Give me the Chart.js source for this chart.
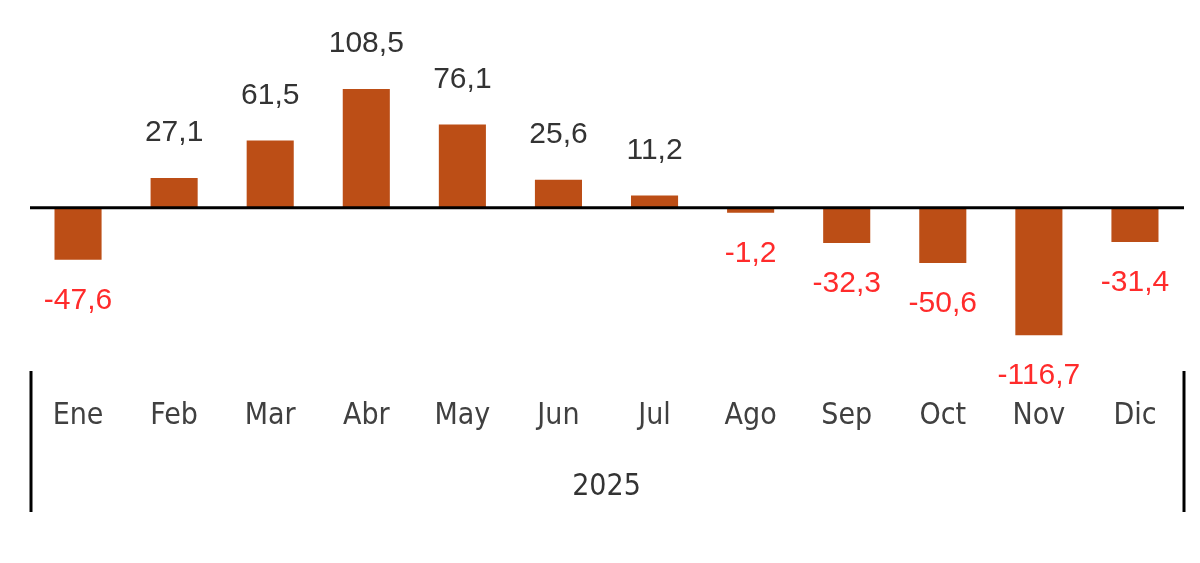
<!DOCTYPE html>
<html>
<head>
<meta charset="utf-8">
<script src="https://cdn.jsdelivr.net/npm/chart.js@4.4.1/dist/chart.umd.min.js"></script>
<style>
  html, body { margin: 0; padding: 0; background: #fff; }
  #wrap { width: 1200px; height: 563px; }
</style>
</head>
<body>
<div id="wrap"><canvas id="myChart" width="1200" height="563"></canvas></div>
<script>
const meses = ['Ene', 'Feb', 'Mar', 'Abr', 'May', 'Jun', 'Jul', 'Ago', 'Sep', 'Oct', 'Nov', 'Dic']
const valores = [-47.6, 27.1, 61.5, 108.5, 76.1, 25.6, 11.2, -1.2, -32.3, -50.6, -116.7, -31.4]
const anio = '2025'

const COLOR_BARRA = '#BC4E16'
const COLOR_POS = '#333333'
const COLOR_NEG = '#FF2B2B'

const formato = v => v.toFixed(1).replace('.', ',')

// etiquetas de valor sobre / bajo cada barra
const etiquetas = {
    id: 'etiquetas',
    afterDatasetsDraw(chart) {
        const ctx = chart.ctx
        const meta = chart.getDatasetMeta(0)
        ctx.save()
        ctx.font = '30px "Liberation Sans", Arial, sans-serif'
        ctx.textAlign = 'center'
        ctx.textBaseline = 'middle'
        meta.data.forEach((bar, i) => {
            const v = valores[i]
            if (v >= 0) {
                ctx.fillStyle = COLOR_POS
                ctx.fillText(formato(v), bar.x, bar.y - 45)
            } else {
                ctx.fillStyle = COLOR_NEG
                ctx.fillText(formato(v), bar.x, bar.y + 41)
            }
        })
        ctx.restore()
    }
}

// linea del cero y lineas verticales del eje
const lineas = {
    id: 'lineas',
    afterDraw(chart) {
        const ctx = chart.ctx
        const area = chart.chartArea
        const y0 = chart.scales.y.getPixelForValue(0)
        ctx.save()
        ctx.strokeStyle = '#000'
        ctx.lineWidth = 3
        ctx.beginPath()
        ctx.moveTo(area.left, y0)
        ctx.lineTo(area.right + 1, y0)
        ctx.stroke()

        const top = area.bottom + 6
        const bottom = 512
        ;[area.left + 1, area.right + 1].forEach(x => {
            ctx.beginPath()
            ctx.moveTo(x, top)
            ctx.lineTo(x, bottom)
            ctx.stroke()
        })
        ctx.restore()
    }
}

const ctx = document.getElementById('myChart').getContext('2d')

new Chart(ctx, {
    type: 'bar',
    data: {
        labels: meses,
        datasets: [{
            data: valores,
            backgroundColor: COLOR_BARRA,
            borderWidth: 0,
            categoryPercentage: 1,
            barPercentage: 0.49,
            minBarLength: 5
        }]
    },
    options: {
        responsive: false,
        animation: false,
        layout: { padding: { left: 30, right: 17, top: 0, bottom: 58 } },
        plugins: {
            legend: { display: false },
            tooltip: { enabled: false }
        },
        scales: {
            x: {
                grid: { display: false, drawTicks: false },
                border: { display: false },
                ticks: {
                    color: '#404040',
                    padding: 33,
                    maxRotation: 0,
                    font: { family: '"Liberation Sans Narrow", "DejaVu Sans Condensed", sans-serif', size: 30 }
                },
                title: {
                    display: true,
                    text: anio,
                    color: '#333333',
                    padding: { top: 2, bottom: 0 },
                    font: { family: '"Liberation Sans Narrow", "DejaVu Sans Condensed", sans-serif', size: 30 }
                }
            },
            y: {
                display: false,
                min: -144,
                max: 190
            }
        }
    },
    plugins: [etiquetas, lineas]
})
</script>
</body>
</html>
